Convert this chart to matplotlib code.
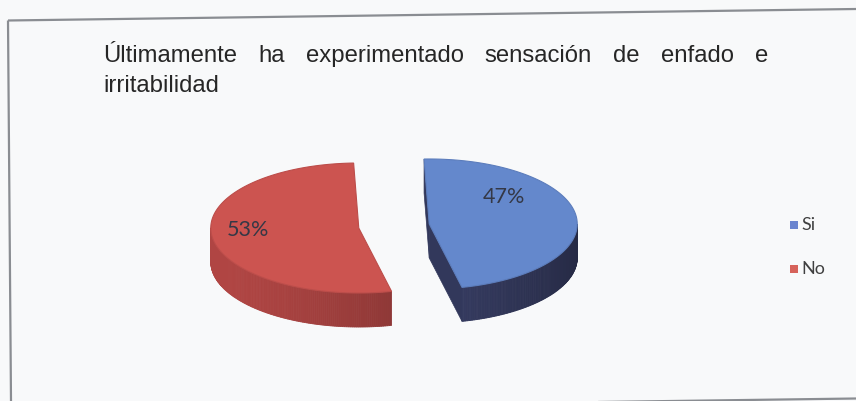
import numpy as np
import matplotlib
matplotlib.use('Agg')
import matplotlib.pyplot as plt
from matplotlib.patches import Polygon, Rectangle
from matplotlib.colors import to_rgb

# ---------------- data ----------------
title_line1 = "Últimamente ha experimentado sensación de enfado e"
title_line2 = "irritabilidad"
categories = ["Si", "No"]
values = [47, 53]
top_colors = ["#6488cc", "#cc5450"]
wall_colors = ["#3f4672", "#ad4442"]
legend_colors = ["#6a84cf", "#d6625a"]

# ---------------- layout ----------------
W, H = 856, 402
fig = plt.figure(figsize=(W / 100, H / 100), dpi=100)
fig.patch.set_facecolor('#f8f9fa')
ax = fig.add_axes([0, 0, 1, 1])
ax.set_xlim(0, W)
ax.set_ylim(H, 0)
ax.axis('off')

# chart frame (slightly rotated scan)
frame_kw = dict(color='#8a8d92', lw=1.6, solid_capstyle='butt')
ax.plot([8, 856], [21.5, 10], **frame_kw)
ax.plot([8, 11], [21.5, 402], **frame_kw)
ax.plot([9, 856], [411, 399.5], **frame_kw)

# ---------------- title (justified first line) ----------------
renderer = fig.canvas.get_renderer()
tkw = dict(fontsize=17.2, family=['Liberation Sans', 'DejaVu Sans'], color='#262626',
           va='baseline', ha='left')
words = title_line1.split(' ')
left, right, base1, base2 = 103, 768, 62, 92
widths = []
tmp = []
for w in words:
    t = ax.text(0, base1, w, **tkw)
    widths.append(t.get_window_extent(renderer).width)
    tmp.append(t)
gap = (right - left - sum(widths)) / (len(words) - 1)
x = left
for t, wdt in zip(tmp, widths):
    t.set_x(x)
    x += wdt + gap
ax.text(left, base2, title_line2, **tkw)

# ---------------- 3D exploded pie ----------------
cx, cy = 394, 227
rx, ry = 148, 65
depth = 34
start = 92.0
explode = 0.24

def shade(c, f):
    r, g, b = to_rgb(c)
    return (min(r * f, 1), min(g * f, 1), min(b * f, 1))

fracs = np.array(values, dtype=float) / np.sum(values)
bounds = []
a = start
for f in fracs:
    bounds.append((a - f * 360.0, a))
    a -= f * 360.0

label_pos = [(40.0, 0.66), (181.0, 0.75)]   # (angle, radius fraction) per slice

for i, (a0, a1) in enumerate(bounds):
    m = np.radians((a0 + a1) / 2)
    ox = cx + explode * rx * np.cos(m)
    oy = cy - explode * ry * np.sin(m)

    def P(th, dz=0.0):
        t = np.radians(th)
        return (ox + rx * np.cos(t), oy - ry * np.sin(t) + dz)

    # radial cut faces
    for th, nrm in ((a0, a0 - 90), (a1, a1 + 90)):
        if np.sin(np.radians(nrm)) < 0:
            quad = [(ox, oy), P(th), P(th, depth), (ox, oy + depth)]
            ax.add_patch(Polygon(quad, closed=True, fc=shade(wall_colors[i], 0.8),
                                 ec=shade(wall_colors[i], 0.8), lw=0.5, zorder=1))

    # outer wall facets
    ths = np.linspace(a0, a1, 240)
    for k in range(len(ths) - 1):
        tm = np.radians((ths[k] + ths[k + 1]) / 2)
        if np.sin(tm) >= 0:
            continue
        light = 0.80 + 0.22 * np.cos(tm - np.radians(200))
        col = shade(wall_colors[i], light)
        quad = [P(ths[k]), P(ths[k + 1]), P(ths[k + 1], depth), P(ths[k], depth)]
        ax.add_patch(Polygon(quad, closed=True, fc=col, ec=col, lw=0.6, zorder=2))

    # top face
    arc = [P(t) for t in np.linspace(a0, a1, 200)]
    ax.add_patch(Polygon([(ox, oy)] + arc, closed=True, fc=top_colors[i],
                         ec=shade(top_colors[i], 0.92), lw=0.8, zorder=3))

    # percent label
    la, lr = label_pos[i]
    lx = ox + lr * rx * np.cos(np.radians(la))
    ly = oy - lr * ry * np.sin(np.radians(la))
    ax.text(lx, ly, f"{values[i]}%", ha='center', va='center', fontsize=15.5,
            family=['Lato', 'DejaVu Sans'], color='#343846', zorder=5)

# ---------------- legend ----------------
leg_y = [225, 269]
for i, cat in enumerate(categories):
    ax.add_patch(Rectangle((790, leg_y[i] - 3), 8, 8, fc=legend_colors[i], ec='none', zorder=5))
    ax.text(801, leg_y[i], cat, ha='left', va='center', fontsize=13,
            family=['Lato', 'DejaVu Sans'], color='#404040')

fig.savefig('out.png', dpi=100, facecolor=fig.get_facecolor())
